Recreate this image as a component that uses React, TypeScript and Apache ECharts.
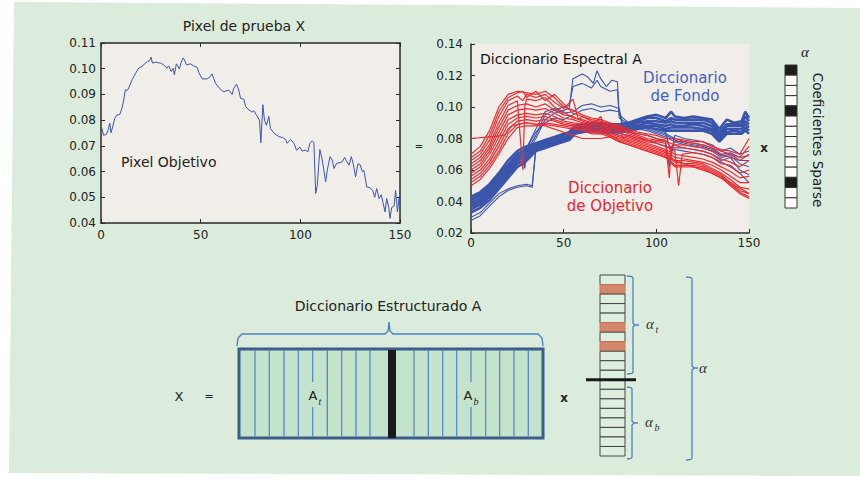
import React, { useEffect, useRef } from "react";
import * as echarts from "echarts";

// ---------- DATA ----------
// Left plot: test pixel spectrum [band, reflectance]
const PIXEL_SPECTRUM: [number, number][] = [
  [0, 0.077], [0.5, 0.0768], [1.3, 0.0741], [2.7, 0.0745], [3.5, 0.076], [4.4, 0.0788], [5, 0.0751], [5.9, 0.0775],
  [6.9, 0.0807], [8, 0.082], [9.4, 0.0822], [10.5, 0.0846], [11.4, 0.0878], [12.2, 0.0918], [13.1, 0.0915], [13.9, 0.0925],
  [15.6, 0.0957], [17.2, 0.098], [18.9, 0.1002], [20.6, 0.1009], [22.3, 0.1022], [23.4, 0.1028], [24.4, 0.1032], [25.1, 0.1045],
  [25.8, 0.1022], [27.3, 0.1025], [29.8, 0.1022], [31.5, 0.1015], [33.1, 0.1002], [34, 0.1011], [35.2, 0.0989], [36.2, 0.1002],
  [36.8, 0.0976], [37.8, 0.1019], [38.5, 0.1011], [39.3, 0.0999], [40.2, 0.1024], [41.2, 0.1042], [41.9, 0.1034], [42.9, 0.1015],
  [44.9, 0.1019], [46.5, 0.1011], [48.2, 0.1006], [49.1, 0.0985], [50.7, 0.0961], [53.2, 0.096], [54.6, 0.0968], [55.7, 0.098],
  [57.4, 0.0944], [59.9, 0.092], [61.6, 0.091], [64.1, 0.0917], [65.8, 0.09], [66.6, 0.0924], [68, 0.094], [69.1, 0.0917],
  [70, 0.0885], [71.7, 0.0881], [72.5, 0.0853], [74.2, 0.084], [75.8, 0.0831], [76.7, 0.0837], [78.4, 0.0814], [79.5, 0.08],
  [80.2, 0.0712], [81.2, 0.086], [82, 0.08], [83, 0.078], [84.2, 0.0814], [85, 0.0768], [86.7, 0.075], [89.2, 0.0736],
  [90.9, 0.0733], [92.6, 0.0725], [93.4, 0.071], [95.1, 0.0725], [96.8, 0.071], [98.1, 0.0683], [99.8, 0.0695], [100.9, 0.068],
  [102.6, 0.0683], [103.8, 0.0677], [104.8, 0.071], [106, 0.072], [106.8, 0.0712], [107.7, 0.0515], [108.5, 0.0545], [109.8, 0.0686],
  [111, 0.0645], [112.7, 0.056], [113.5, 0.0605], [114.9, 0.0658], [116, 0.0645], [116.9, 0.0612], [118.2, 0.0632], [119.9, 0.0635],
  [121, 0.0638], [122.2, 0.0655], [123.2, 0.064], [124.4, 0.0625], [125.6, 0.0658], [126.6, 0.0628], [127.7, 0.058], [128.9, 0.063],
  [129.9, 0.0628], [131.1, 0.06], [131.9, 0.0605], [133.3, 0.054], [134.9, 0.0537], [136.3, 0.0527], [137.3, 0.05], [138.3, 0.0534],
  [139.5, 0.0495], [140.6, 0.051], [141.6, 0.0475], [142.5, 0.0443], [143.3, 0.0495], [144.3, 0.0462], [145, 0.0418], [145.8, 0.046],
  [147, 0.0466], [147.8, 0.0527], [148.7, 0.0443], [149.5, 0.0495], [150, 0.0478],
];

// Right plot: dictionary atoms, values in thousandths [band, reflectance*1000]
type Curve = [number, number][];
const fondoB1: Curve = [[0,43],[5,46],[10,51],[15,58],[20,66],[25,72],[28,74],[30,75],[35,77],[40,79],[45,81],[50,83],[53,84],[56,88],[60,89],[65,90],[70,90],[75,89],[80,89],[85,90],[90,92],[95,94],[100,95],[105,93],[108,97],[110,94],[115,93],[120,94],[125,93],[130,92],[134,86],[138,92],[142,90],[146,91],[148,97],[150,93]];
const fondoB2: Curve = [[0,41],[5,44],[10,49],[15,56],[20,63],[25,70],[28,72],[30,73],[35,76],[40,78],[45,80],[50,82],[53,83],[56,87],[60,88],[65,89],[70,89],[75,88],[80,88],[85,89],[90,91],[95,93],[100,93],[105,91],[108,93],[110,92],[115,92],[120,92],[125,92],[130,90],[134,84],[138,89],[142,89],[146,89],[148,94],[150,91]];
const fondoB3: Curve = [[0,39],[5,42],[10,47],[15,54],[20,61],[25,68],[28,70],[30,72],[35,75],[40,77],[45,79],[50,81],[53,82],[56,86],[60,87],[65,88],[70,88],[75,87],[80,87],[85,88],[90,90],[95,91],[100,91],[105,90],[108,91],[110,90],[115,90],[120,90],[125,90],[130,88],[134,82],[138,88],[142,88],[146,88],[148,91],[150,89]];
const fondoB4: Curve = [[0,37],[5,40],[10,45],[15,52],[20,59],[25,66],[28,68],[30,70],[35,74],[40,76],[45,78],[50,80],[53,81],[56,85],[60,86],[65,87],[70,87],[75,86],[80,86],[85,87],[90,88],[95,90],[100,89],[105,88],[108,89],[110,88],[115,88],[120,89],[125,88],[130,86],[134,80],[138,86],[142,86],[146,86],[148,89],[150,87]];
const fondoB5: Curve = [[0,35],[5,38],[10,43],[15,50],[20,57],[25,64],[28,66],[30,68],[35,73],[40,75],[45,77],[50,79],[53,80],[56,84],[60,85],[65,86],[70,86],[75,85],[80,85],[85,86],[90,87],[95,88],[100,88],[105,86],[108,87],[110,87],[115,87],[120,87],[125,86],[130,85],[134,79],[138,84],[142,85],[146,84],[148,87],[150,85]];
const fondoB6: Curve = [[0,33],[5,36],[10,41],[15,48],[20,55],[25,62],[28,64],[30,66],[35,72],[40,74],[45,76],[50,78],[53,79],[56,83],[60,84],[65,85],[70,85],[75,84],[80,84],[85,85],[90,86],[95,87],[100,86],[105,85],[108,85],[110,85],[115,85],[120,85],[125,85],[130,83],[134,78],[138,83],[142,83],[146,83],[148,85],[150,83]];
const fondoL1: Curve = [[0,28],[5,31],[10,37],[15,43],[20,47],[25,49],[30,50],[33,49],[35,74],[40,77],[45,79],[50,81],[55,84],[60,85],[65,85],[70,84],[75,84],[80,85],[85,84],[90,83],[95,82],[100,80],[105,78],[107,62],[109,76],[115,74],[120,73],[125,72],[130,70],[135,66],[140,68],[145,60],[150,57]];
const fondoL2: Curve = [[0,30],[5,33],[10,39],[15,45],[20,48],[25,50],[30,51],[33,50],[35,73],[40,76],[45,78],[50,80],[55,83],[60,84],[65,84],[70,83],[75,83],[80,83],[85,82],[90,80],[95,79],[100,77],[105,75],[110,73],[115,72],[120,71],[125,70],[130,68],[135,64],[140,63],[145,58],[150,52]];
const fondoH1: Curve = [[0,36],[5,39],[10,44],[15,51],[20,58],[25,65],[28,69],[29,61],[30,70],[35,80],[40,92],[45,96],[50,98],[53,99],[55,118],[60,121],[63,119],[66,115],[68,123],[70,118],[73,113],[76,117],[79,116],[80,95],[85,90],[90,89],[95,88],[100,86],[105,84],[108,70],[110,82],[115,80],[120,79],[125,78],[130,76],[135,72],[140,74],[145,70],[150,72]];
const fondoH2: Curve = [[0,38],[5,41],[10,46],[15,53],[20,60],[25,67],[30,72],[35,82],[40,95],[45,98],[50,100],[53,101],[55,113],[60,115],[65,112],[68,117],[70,113],[75,110],[79,111],[80,93],[85,89],[90,88],[95,87],[100,85],[105,83],[110,80],[115,78],[120,77],[125,76],[130,74],[135,70],[140,71],[145,68],[150,69]];
const fondoM1: Curve = [[0,40],[5,43],[10,48],[15,55],[20,62],[25,69],[30,74],[35,86],[40,97],[45,99],[50,96],[55,97],[60,101],[65,102],[70,100],[75,101],[80,99],[82,88],[85,88],[90,87],[95,86],[100,84],[105,82],[110,79],[115,77],[120,76],[125,75],[130,73],[135,69],[140,70],[145,66],[150,66]];
const fondoM2: Curve = [[0,42],[5,45],[10,50],[15,57],[20,64],[25,70],[30,74],[35,84],[40,90],[45,93],[50,92],[55,95],[60,98],[65,99],[70,97],[75,98],[80,97],[82,86],[85,87],[90,86],[95,85],[100,83],[105,81],[110,78],[115,76],[120,75],[125,74],[130,72],[135,68],[140,69],[145,64],[150,62]];

const objR1: Curve = [[0,70],[5,75],[10,85],[15,100],[20,108],[25,110],[30,109],[35,108],[40,110],[45,106],[50,100],[55,98],[60,95],[65,93],[70,92],[75,90],[80,88],[85,86],[90,84],[95,83],[100,82],[105,80],[110,80],[115,79],[120,78],[125,78],[130,75],[135,73],[140,72],[145,70],[150,80]];
const objR2: Curve = [[0,68],[5,72],[10,82],[15,97],[20,106],[25,109],[28,110],[30,106],[35,110],[40,104],[45,108],[50,102],[55,96],[60,94],[65,92],[70,91],[75,89],[80,87],[85,85],[90,83],[95,82],[100,80],[105,79],[108,74],[110,78],[115,78],[120,77],[125,76],[130,74],[135,72],[140,70],[145,68],[150,75]];
const objR3: Curve = [[0,66],[5,70],[10,79],[15,94],[20,104],[25,107],[28,104],[30,108],[35,106],[40,108],[45,103],[50,99],[55,105],[58,92],[60,94],[65,91],[70,90],[75,88],[80,86],[85,84],[90,82],[95,80],[100,79],[105,78],[110,76],[115,76],[120,75],[125,74],[130,72],[135,70],[140,68],[145,66],[150,70]];
const objR4: Curve = [[0,64],[5,68],[10,76],[15,90],[20,101],[25,104],[28,60],[29,100],[30,105],[35,104],[40,106],[45,100],[50,97],[55,93],[60,92],[65,90],[70,89],[75,87],[80,85],[85,83],[90,81],[95,79],[100,78],[105,77],[107,55],[108,75],[110,74],[115,74],[120,73],[125,72],[130,70],[135,67],[140,65],[145,62],[150,66]];
const objR5: Curve = [[0,62],[5,66],[10,74],[15,87],[20,98],[25,101],[30,102],[35,100],[40,102],[45,98],[50,95],[55,94],[60,91],[65,89],[70,88],[75,86],[80,89],[82,80],[85,82],[90,80],[95,78],[100,77],[105,75],[110,72],[112,50],[114,70],[120,71],[125,70],[130,68],[135,65],[140,62],[145,58],[150,60]];
const objR6: Curve = [[0,60],[5,64],[10,72],[15,84],[20,95],[25,98],[30,99],[35,98],[40,99],[45,96],[50,93],[55,92],[60,90],[65,88],[70,94],[72,87],[75,85],[80,84],[85,81],[90,79],[95,77],[100,75],[105,73],[110,70],[115,69],[120,68],[125,67],[130,65],[135,62],[140,59],[145,55],[150,56]];
const objR7: Curve = [[0,58],[5,62],[10,70],[15,81],[20,92],[25,95],[30,96],[35,95],[40,96],[45,94],[50,91],[55,90],[60,89],[65,87],[70,87],[75,84],[80,82],[85,80],[90,78],[95,76],[100,74],[105,72],[110,68],[115,67],[120,66],[125,65],[130,63],[135,60],[140,56],[145,52],[150,52]];
const objR8: Curve = [[0,56],[5,60],[10,67],[15,78],[20,89],[25,93],[30,94],[35,93],[40,94],[45,92],[50,90],[55,89],[60,88],[65,86],[70,86],[75,83],[80,81],[85,79],[90,77],[95,75],[100,73],[105,71],[110,66],[115,66],[120,65],[125,64],[130,61],[135,58],[140,54],[145,49],[150,48]];
const objR9: Curve = [[0,54],[5,58],[10,65],[15,75],[20,86],[25,91],[30,92],[35,91],[40,92],[45,91],[50,89],[55,88],[60,87],[65,85],[70,85],[75,82],[80,80],[85,78],[90,76],[95,74],[100,72],[105,70],[110,65],[115,64],[120,64],[125,63],[130,60],[135,57],[140,52],[145,47],[150,45]];
const objR10: Curve = [[0,52],[5,56],[10,63],[15,72],[20,83],[25,89],[30,90],[35,89],[40,90],[45,89],[50,88],[55,87],[60,86],[65,84],[70,84],[75,82],[80,79],[85,77],[90,75],[95,73],[100,71],[105,69],[110,63],[115,63],[120,63],[125,62],[130,59],[135,56],[140,51],[145,46],[150,43]];
const objR11: Curve = [[0,50],[5,54],[10,61],[15,70],[20,80],[25,87],[30,88],[35,88],[40,89],[45,88],[50,87],[55,86],[60,85],[65,83],[70,83],[75,81],[80,78],[85,76],[90,74],[95,72],[100,70],[105,68],[110,62],[115,62],[120,62],[125,61],[130,58],[135,55],[140,50],[145,45],[150,42]];
const objR12: Curve = [[0,80],[10,81],[18,82],[22,88],[30,90],[40,88],[50,84],[55,82],[60,80],[70,80],[75,81],[80,78],[90,74],[100,70],[110,66],[120,62],[130,58],[140,52],[150,45]];

const FONDO_BAND = [fondoB1, fondoB2, fondoB3, fondoB4, fondoB5, fondoB6];
const FONDO_OTHER = [fondoL1, fondoL2, fondoH1, fondoH2, fondoM1, fondoM2];
const OBJETIVO = [objR1, objR2, objR3, objR4, objR5, objR6, objR7, objR8, objR9, objR10, objR11, objR12];

// Sparse coefficient vector (1 = active)
const ALPHA_SPARSE = [1, 0, 0, 0, 1, 0, 0, 0, 0, 0, 0, 1, 0, 0];
// Structured vector: target part and background part (1 = active)
const ALPHA_T = [0, 1, 0, 0, 0, 1, 0, 1, 0, 0, 0];
const ALPHA_B = [0, 0, 0, 0, 0, 0, 0, 0];

// axis ticks
const X_MIN = 0, X_MAX = 150, X_STEP = 50;
const L_Y_MIN = 0.04, L_Y_MAX = 0.11, L_Y_STEP = 0.01;
const R_Y_MIN = 0.02, R_Y_MAX = 0.14, R_Y_STEP = 0.02;

// ---------- STYLE ----------
const FONT = "DejaVu Sans";
const BG = "#dbebdc";
const PLOT_BG = "#f1eee9";
const BLUE = "#3a55ab";
const RED = "#ee2a2e";
const BRACE = "#4d80c8";
const TXT = "#222";

export default function App() {
  const ref = useRef<HTMLDivElement>(null);

  useEffect(() => {
    if (!ref.current) return;
    const chart = echarts.init(ref.current, undefined, { renderer: "svg" });

    const axLine = { show: true, onZero: false, lineStyle: { color: "#2a2a2a", width: 1.5 } };
    const tick = { show: true, inside: true, length: 4, lineStyle: { color: "#2a2a2a" } };
    const lbl = { fontFamily: FONT, fontSize: 12, color: TXT };
    const fmt2 = (v: number) => v.toFixed(2);

    const xAxis: any[] = [
      { gridIndex: 0, type: "value", min: X_MIN, max: X_MAX, interval: X_STEP, position: "bottom",
        axisLine: axLine, axisTick: tick, axisLabel: { ...lbl, margin: 6 }, splitLine: { show: false } },
      { gridIndex: 0, type: "value", min: X_MIN, max: X_MAX, interval: X_STEP, position: "top",
        axisLine: axLine, axisTick: tick, axisLabel: { show: false }, splitLine: { show: false } },
      { gridIndex: 1, type: "value", min: X_MIN, max: X_MAX, interval: X_STEP, position: "bottom",
        axisLine: { ...axLine, lineStyle: { color: "#333", width: 1.5 } }, axisTick: tick, axisLabel: { ...lbl, margin: 4 }, splitLine: { show: false } },
    ];
    const yAxis: any[] = [
      { gridIndex: 0, type: "value", min: L_Y_MIN, max: L_Y_MAX, interval: L_Y_STEP, position: "left",
        axisLine: axLine, axisTick: tick, axisLabel: { ...lbl, margin: 5, formatter: fmt2 }, splitLine: { show: false } },
      { gridIndex: 0, type: "value", min: L_Y_MIN, max: L_Y_MAX, interval: L_Y_STEP, position: "right",
        axisLine: axLine, axisTick: tick, axisLabel: { show: false }, splitLine: { show: false } },
      { gridIndex: 1, type: "value", min: R_Y_MIN, max: R_Y_MAX, interval: R_Y_STEP, position: "left",
        axisLine: axLine, axisTick: tick, axisLabel: { ...lbl, margin: 8, formatter: fmt2 }, splitLine: { show: false } },
    ];

    const toUnits = (c: Curve) => c.map(([x, v]) => [x, v / 1000]);
    const line = (data: any[], color: string, width: number, xi: number, yi: number) => ({
      type: "line", xAxisIndex: xi, yAxisIndex: yi, data, showSymbol: false, symbol: "none",
      lineStyle: { color, width }, silent: true, z: 3,
    });

    const series: any[] = [line(PIXEL_SPECTRUM, BLUE, 1, 0, 0)];
    FONDO_OTHER.forEach((c) => series.push(line(toUnits(c), BLUE, 1.1, 2, 2)));
    FONDO_BAND.forEach((c) => series.push(line(toUnits(c), BLUE, 2.6, 2, 2)));
    OBJETIVO.forEach((c) => series.push(line(toUnits(c), RED, 1.2, 2, 2)));

    // ---------- graphic ----------
    const g: any[] = [];
    g.push({ type: "polygon", z: -100, silent: true, shape: { points: [[14, 2], [860, 8], [860, 476], [9, 473]] }, style: { fill: BG } });

    const text = (t: string, x: number, y: number, opts: any = {}) => ({
      type: "text", x, y, z: 40, silent: true,
      style: { text: t, fontFamily: FONT, fontSize: 14, fill: TXT, align: "center", verticalAlign: "middle", ...opts },
    });

    g.push(text("Pixel de prueba X", 244, 26));
    g.push(text("Pixel Objetivo", 121, 162, { align: "left" }));
    g.push(text("=", 419, 146, { fontSize: 10 }));
    g.push(text("Diccionario Espectral A", 480, 59, { align: "left", fill: "#111" }));
    g.push(text("Diccionario\nde Fondo", 685, 87, { fill: "#4361bd", fontSize: 15, lineHeight: 18 }));
    g.push(text("Diccionario\nde Objetivo", 610, 197, { fill: "#e8262b", fontSize: 15, lineHeight: 18 }));
    g.push(text("x", 764, 148, { fontSize: 12, fontWeight: "bold" }));

    // sparse column
    const cellH = (208 - 65) / ALPHA_SPARSE.length;
    ALPHA_SPARSE.forEach((a, i) => {
      g.push({ type: "rect", z: 20, silent: true, shape: { x: 785, y: 65 + i * cellH, width: 12, height: cellH },
        style: { fill: a ? "#1c1c1c" : "#ffffff", stroke: "#333", lineWidth: 1 } });
    });
    g.push(text("α", 805, 52, { fontFamily: "Liberation Serif", fontStyle: "italic", fontSize: 15 }));
    g.push({ ...text("Coeficientes Sparse", 818, 140, { fontSize: 13.6 }), rotation: -Math.PI / 2 });

    // bottom: structured dictionary
    g.push(text("Diccionario Estructurado A", 388, 306));
    g.push({ type: "polyline", z: 20, silent: true,
      shape: { points: [[237, 346], [238, 338], [242, 334], [385, 334], [388, 331], [389, 322], [390, 331], [393, 334], [538, 334], [542, 338], [543, 346]] },
      style: { stroke: BRACE, lineWidth: 1.4, fill: null } });
    g.push({ type: "rect", z: 20, silent: true, shape: { x: 239, y: 349, width: 304, height: 89 },
      style: { fill: "#c3e3cc", stroke: "#3b5f8c", lineWidth: 3 } });
    const colsLeft = [255, 269.3, 284, 298.3, 312.7, 327.3, 341.7, 356, 370];
    const colsRight = [414, 428.3, 442.7, 456.7, 471, 485.7, 499.7, 514, 528.3];
    [...colsLeft, ...colsRight].forEach((x) => {
      g.push({ type: "line", z: 21, silent: true, shape: { x1: x, y1: 350.5, x2: x, y2: 436.5 }, style: { stroke: "#4d80c8", lineWidth: 1.2 } });
    });
    g.push({ type: "rect", z: 22, silent: true, shape: { x: 388, y: 350, width: 8, height: 88 }, style: { fill: "#1a1a1a" } });
    g.push({ type: "rect", z: 22, silent: true, shape: { x: 307, y: 382, width: 16, height: 25 }, style: { fill: "#c3e3cc" } });
    g.push({ type: "rect", z: 22, silent: true, shape: { x: 462, y: 382, width: 18, height: 25 }, style: { fill: "#c3e3cc" } });
    g.push(text("A", 313, 395, { fontSize: 13 }));
    g.push(text("t", 320, 401, { fontSize: 10, fontStyle: "italic", fontFamily: "Liberation Serif" }));
    g.push(text("A", 468, 395, { fontSize: 13 }));
    g.push(text("b", 476, 401, { fontSize: 10, fontStyle: "italic", fontFamily: "Liberation Serif" }));
    g.push(text("X", 179, 396, { fontSize: 13 }));
    g.push(text("=", 209, 396, { fontSize: 11 }));
    g.push(text("x", 564, 398, { fontSize: 12, fontWeight: "bold" }));

    // structured coefficient vector
    const vTop = 275, vH = (456 - 275) / (ALPHA_T.length + ALPHA_B.length);
    [...ALPHA_T, ...ALPHA_B].forEach((a, i) => {
      g.push({ type: "rect", z: 20, silent: true, shape: { x: 600, y: vTop + i * vH, width: 25, height: vH },
        style: { fill: a ? "#d5876b" : "#deeedf", stroke: a ? "#c27658" : "#444", lineWidth: 1 } });
    });
    const barY = vTop + ALPHA_T.length * vH;
    g.push({ type: "line", z: 22, silent: true, shape: { x1: 586, y1: barY, x2: 636, y2: barY }, style: { stroke: "#1a1a1a", lineWidth: 3 } });

    const vbrace = (x0: number, x1: number, y0: number, y1: number, tip: number) => ({
      type: "polyline", z: 20, silent: true,
      shape: { points: [[x0, y0], [x1 - 1, y0 + 0.5], [x1, y0 + 2], [x1, tip - 2], [x1 + 2, tip], [x1 + 6, tip], [x1 + 2, tip], [x1, tip + 2], [x1, y1 - 2], [x1 - 1, y1 - 0.5], [x0, y1]] },
      style: { stroke: BRACE, lineWidth: 1.3, fill: null },
    });
    g.push(vbrace(627, 633, 276, 374, 325));
    g.push(vbrace(627, 632, 387, 459, 423));
    g.push(vbrace(686, 692, 277, 460, 368));
    const serif = { fontFamily: "Liberation Serif", fontStyle: "italic", fill: "#333" };
    g.push(text("α", 650, 324, { ...serif, fontSize: 15 }));
    g.push(text("t", 657, 329, { ...serif, fontSize: 10 }));
    g.push(text("α", 649, 422, { ...serif, fontSize: 15 }));
    g.push(text("b", 657, 427, { ...serif, fontSize: 10 }));
    g.push(text("α", 703, 368, { ...serif, fontSize: 15 }));

    chart.setOption({
      animation: false,
      backgroundColor: "#ffffff",
      grid: [
        { left: 101, top: 43, width: 299, height: 180, show: true, backgroundColor: PLOT_BG, borderWidth: 0, containLabel: false },
        { left: 471, top: 44, width: 278, height: 189, show: true, backgroundColor: PLOT_BG, borderWidth: 0, containLabel: false },
      ],
      xAxis,
      yAxis,
      series,
      graphic: { elements: g },
    });

    return () => chart.dispose();
  }, []);

  return <div ref={ref} style={{ position: "fixed", left: 0, top: 0, width: 860, height: 479 }} />;
}
